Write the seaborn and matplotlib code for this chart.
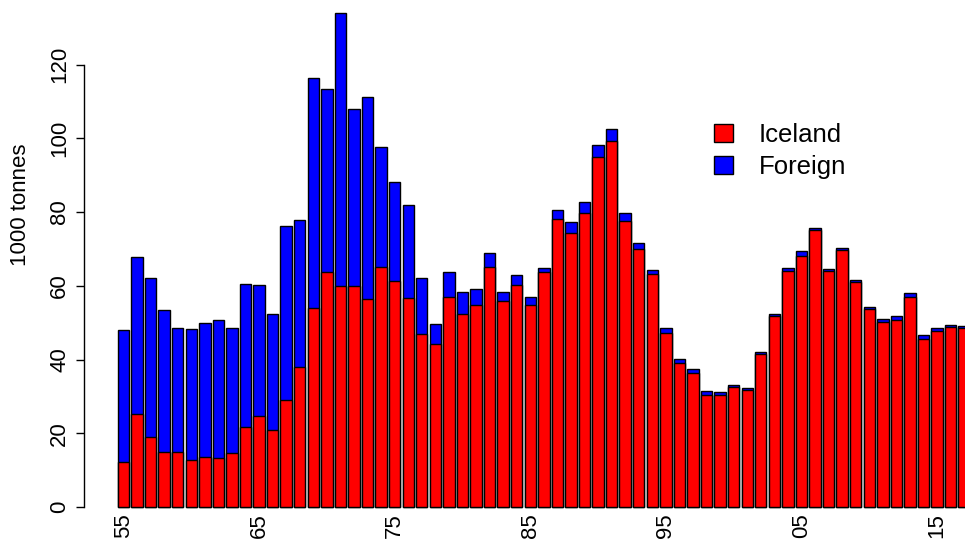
import numpy as np
import pandas as pd
import matplotlib
matplotlib.use("Agg")
import matplotlib.pyplot as plt
from matplotlib.patches import Patch
import seaborn as sns

# catch in 1000 tonnes
years = list(range(1955, 2018))
iceland = [12.2, 25.1, 19.1, 14.9, 14.9, 12.7, 13.6, 13.4, 14.7, 21.6,
           24.8, 21.0, 28.9, 37.9, 53.9, 63.8, 60.0, 59.9, 56.5, 65.1,
           61.4, 56.7, 46.9, 44.2, 56.9, 52.4, 54.8, 65.1, 55.8, 60.3,
           54.9, 63.6, 78.0, 74.2, 79.7, 94.9, 99.2, 77.7, 69.9, 63.2,
           47.3, 39.1, 36.4, 30.3, 30.4, 32.6, 31.6, 41.5, 51.7, 64.1,
           68.1, 75.0, 63.9, 69.7, 60.9, 53.6, 50.2, 50.8, 56.9, 45.6,
           47.8, 48.8, 48.6]
foreign = [35.7, 42.8, 42.9, 38.4, 33.6, 35.5, 36.2, 37.2, 33.8, 38.9,
           35.3, 31.3, 47.3, 40.0, 62.5, 49.6, 73.9, 48.0, 54.6, 32.5,
           26.7, 25.3, 15.1, 5.4, 6.7, 5.9, 4.3, 3.9, 2.5, 2.5,
           2.1, 1.3, 2.6, 3.1, 2.9, 3.2, 3.2, 2.0, 1.8, 1.1,
           1.2, 1.1, 0.9, 1.1, 0.7, 0.5, 0.6, 0.6, 0.6, 0.7,
           1.2, 0.8, 0.6, 0.6, 0.6, 0.7, 0.9, 1.1, 1.2, 1.0,
           0.7, 0.5, 0.5]
tick_years = [1955, 1965, 1975, 1985, 1995, 2005, 2015]

df = pd.DataFrame({"year": [str(y) for y in years],
                   "Iceland": iceland, "Foreign": foreign})
df["total"] = df["Iceland"] + df["Foreign"]

sns.set_style("white")
plt.rcParams["font.family"] = ["Liberation Sans", "DejaVu Sans"]
plt.rcParams["text.color"] = "black"
plt.rcParams["axes.labelcolor"] = "black"
plt.rcParams["xtick.color"] = "black"
plt.rcParams["ytick.color"] = "black"

fig = plt.figure(figsize=(9.65, 5.48), dpi=100)
ax = fig.add_axes([84 / 965, 21 / 548, 881 / 965, 527 / 548])

# stacked bars: total in blue, Iceland share drawn over it in red
sns.barplot(data=df, x="year", y="total", color="blue", saturation=1,
            width=0.84, edgecolor="black", linewidth=1.0, ax=ax)
sns.barplot(data=df, x="year", y="Iceland", color="red", saturation=1,
            width=0.84, edgecolor="black", linewidth=1.0, ax=ax)

ax.set_xlim(-2.91, 62.06)
ax.set_ylim(-5.42, 137.5)

pos = [years.index(y) for y in tick_years]
ax.set_xticks(pos)
ax.set_xticklabels([str(y)[2:] for y in tick_years], rotation=90,
                   fontsize=16, va="top", ha="center", color="black")
ax.tick_params(axis="x", length=0, pad=-10)

ax.set_yticks([0, 20, 40, 60, 80, 100, 120])
ax.set_yticklabels(["0", "20", "40", "60", "80", "100", "120"],
                   rotation=90, va="center", fontsize=16, color="black")
ax.tick_params(axis="y", length=6, width=1, color="black", pad=4, left=True)

for s in ["top", "right", "bottom"]:
    ax.spines[s].set_visible(False)
ax.spines["left"].set_bounds(0, 120)
ax.spines["left"].set_color("black")
ax.spines["left"].set_linewidth(1)

ax.set_xlabel("")
ax.set_ylabel("1000 tonnes", fontsize=16, color="black")
ax.yaxis.set_label_coords(-0.060, 0.611)

handles = [Patch(facecolor="red", edgecolor="black", linewidth=1),
           Patch(facecolor="blue", edgecolor="black", linewidth=1)]
leg = fig.legend(handles, ["Iceland", "Foreign"], loc="upper left",
                 bbox_to_anchor=(691 / 965, 1 - 100 / 548), frameon=False,
                 fontsize=18.5, handlelength=0.75, handleheight=0.7,
                 handletextpad=1.0, labelspacing=0.3)
for t in leg.get_texts():
    t.set_color("black")

fig.savefig("out.png", dpi=100)
